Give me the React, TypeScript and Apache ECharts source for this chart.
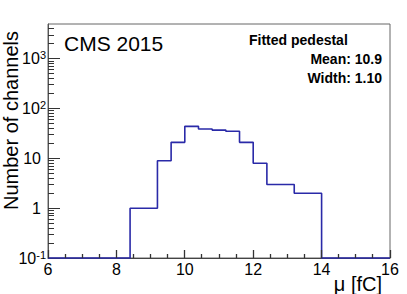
import React, { useEffect, useRef } from "react";
import * as echarts from "echarts";

const binLeftEdges = [6.0, 6.4, 6.8, 7.2, 7.6, 8.0, 8.4, 8.8, 9.2, 9.6, 10.0, 10.4, 10.8, 11.2, 11.6, 12.0, 12.4, 12.8, 13.2, 13.6, 14.0, 14.4, 14.8, 15.2, 15.6];
const binUpperEdge = 16.0;
const channelCounts = [0, 0, 0, 0, 0, 0, 1, 1, 9, 21, 44, 39, 37, 35, 21, 8, 3, 3, 2, 2, 0, 0, 0, 0, 0];

const xTickValues = [6, 8, 10, 12, 14, 16];
const xMinorTicks = [6.5, 7, 7.5, 8.5, 9, 9.5, 10.5, 11, 11.5, 12.5, 13, 13.5, 14.5, 15, 15.5];
const yMajorTicks = [0.1, 1, 10, 100, 1000];
const yMinorTicks = [
  0.2, 0.3, 0.4, 0.5, 0.6, 0.7, 0.8, 0.9,
  2, 3, 4, 5, 6, 7, 8, 9,
  20, 30, 40, 50, 60, 70, 80, 90,
  200, 300, 400, 500, 600, 700, 800, 900,
  2000, 3000, 4000,
];
const yTickLabels = ["10^-1", "1", "10", "10^2", "10^3"];

const titleText = "CMS 2015";
const legendTitle = "Fitted pedestal";
const legendLines = ["Mean: 10.9", "Width: 1.10"];
const xAxisTitle = "μ [fC]";
const yAxisTitle = "Number of channels";

const FONT = "'Liberation Sans', Arial, Helvetica, sans-serif";
const X_MIN = 6;
const X_MAX = 16;
const Y_MIN = 0.1;
const Y_MAX = 5000;

export default function App() {
  const ref = useRef<HTMLDivElement>(null);
  useEffect(() => {
    if (!ref.current) return;
    const chart = echarts.init(ref.current, null, { renderer: "svg" });

    const stepData: number[][] = binLeftEdges.map((e, i) => [e, Math.max(channelCounts[i], Y_MIN)]);
    stepData.push([binUpperEdge, Math.max(channelCounts[channelCounts.length - 1], Y_MIN)]);

    const yTickData = [
      ...yMajorTicks.map((v) => [X_MIN, v, 1]),
      ...yMinorTicks.map((v) => [X_MIN, v, 0]),
    ];
    const xTickData = [
      ...xTickValues.map((v) => [v, 1, 1]),
      ...xMinorTicks.map((v) => [v, 1, 0]),
    ];

    const labelFor = (v: number) => {
      const l = Math.log10(v);
      const e = Math.round(l);
      if (Math.abs(l - e) > 1e-6) return "";
      const idx = yMajorTicks.findIndex((t) => Math.abs(Math.log10(t) - e) < 1e-6);
      if (idx < 0) return "";
      const s = yTickLabels[idx];
      if (s.indexOf("^") >= 0) {
        const [b, p] = s.split("^");
        return `{b|${b}}{s|${p}}`;
      }
      return `{p|${s}}`;
    };

    const TICK = "#333";

    chart.setOption({
      animation: false,
      grid: {
        left: 48,
        right: 17,
        top: 24,
        bottom: 36,
        show: true,
        borderColor: "#666",
        borderWidth: 1,
        backgroundColor: "transparent",
      },
      xAxis: {
        type: "value",
        min: X_MIN,
        max: X_MAX,
        interval: 2,
        axisLine: { show: true, lineStyle: { color: "#444", width: 1 } },
        axisTick: { show: false },
        splitLine: { show: false },
        axisLabel: {
          show: true,
          margin: 3,
          color: "#000",
          fontSize: 16,
          fontFamily: FONT,
          formatter: (v: number) => (xTickValues.indexOf(v) >= 0 ? String(v) : ""),
        },
      },
      yAxis: {
        type: "log",
        logBase: 10,
        min: Y_MIN,
        max: Y_MAX,
        axisLine: { show: true, lineStyle: { color: "#555", width: 1 } },
        axisTick: { show: false },
        splitLine: { show: false },
        axisLabel: {
          show: true,
          margin: 2,
          color: "#000",
          fontFamily: FONT,
          formatter: labelFor,
          rich: {
            b: { fontSize: 16, fontFamily: FONT, color: "#000" },
            s: { fontSize: 11, fontFamily: FONT, color: "#000", verticalAlign: "top", padding: [0, 0, 7, 0] },
            p: { fontSize: 16, fontFamily: FONT, color: "#000", padding: [0, 5, 0, 0] },
          },
        },
      },
      series: [
        {
          type: "line",
          step: "end",
          data: stepData,
          symbol: "none",
          lineStyle: { color: "#2a2aa8", width: 1.6 },
          clip: false,
          z: 3,
        },
        {
          type: "custom",
          data: yTickData,
          encode: { x: 0, y: 1 },
          silent: true,
          z: 2,
          renderItem: (params: any, api: any) => {
            const p = api.coord([api.value(0), api.value(1)]);
            const len = api.value(2) === 1 ? 12 : 6;
            const y = Math.round(p[1] - 0.5) + 0.5;
            return {
              type: "line",
              shape: { x1: p[0], y1: y, x2: p[0] + len, y2: y },
              style: { stroke: TICK, lineWidth: 1 },
            };
          },
        },
        {
          type: "custom",
          data: xTickData,
          encode: { x: 0, y: 1 },
          silent: true,
          z: 4,
          renderItem: (params: any, api: any) => {
            const p = api.coord([api.value(0), Y_MIN]);
            const len = api.value(2) === 1 ? 8 : 4;
            const x = Math.round(p[0] - 0.5) + 0.5;
            return {
              type: "line",
              shape: { x1: x, y1: p[1], x2: x, y2: p[1] - len },
              style: { stroke: TICK, lineWidth: 1.3 },
            };
          },
        },
      ],
      graphic: [
        {
          type: "text",
          left: 64,
          top: 33,
          style: { text: titleText, font: `21px ${FONT}`, fill: "#000" },
        },
        {
          type: "text",
          x: 249,
          y: 39.5,
          style: { text: legendTitle, font: `bold 14px ${FONT}`, fill: "#000", align: "left", verticalAlign: "middle" },
        },
        {
          type: "text",
          x: 382,
          y: 58.7,
          style: { text: legendLines[0], font: `bold 14px ${FONT}`, fill: "#000", align: "right", verticalAlign: "middle" },
        },
        {
          type: "text",
          x: 382,
          y: 77.7,
          style: { text: legendLines[1], font: `bold 14px ${FONT}`, fill: "#000", align: "right", verticalAlign: "middle" },
        },
        {
          type: "text",
          x: 382,
          y: 284,
          style: { text: xAxisTitle, font: `20px ${FONT}`, fill: "#000", align: "right", verticalAlign: "middle" },
        },
        {
          type: "text",
          x: 11,
          y: 120.5,
          rotation: Math.PI / 2,
          style: { text: yAxisTitle, font: `20px ${FONT}`, fill: "#000", align: "center", verticalAlign: "middle" },
        },
      ],
    });
    return () => chart.dispose();
  }, []);
  return <div ref={ref} style={{ position: "absolute", left: 0, top: 0, width: 407, height: 294 }} />;
}
